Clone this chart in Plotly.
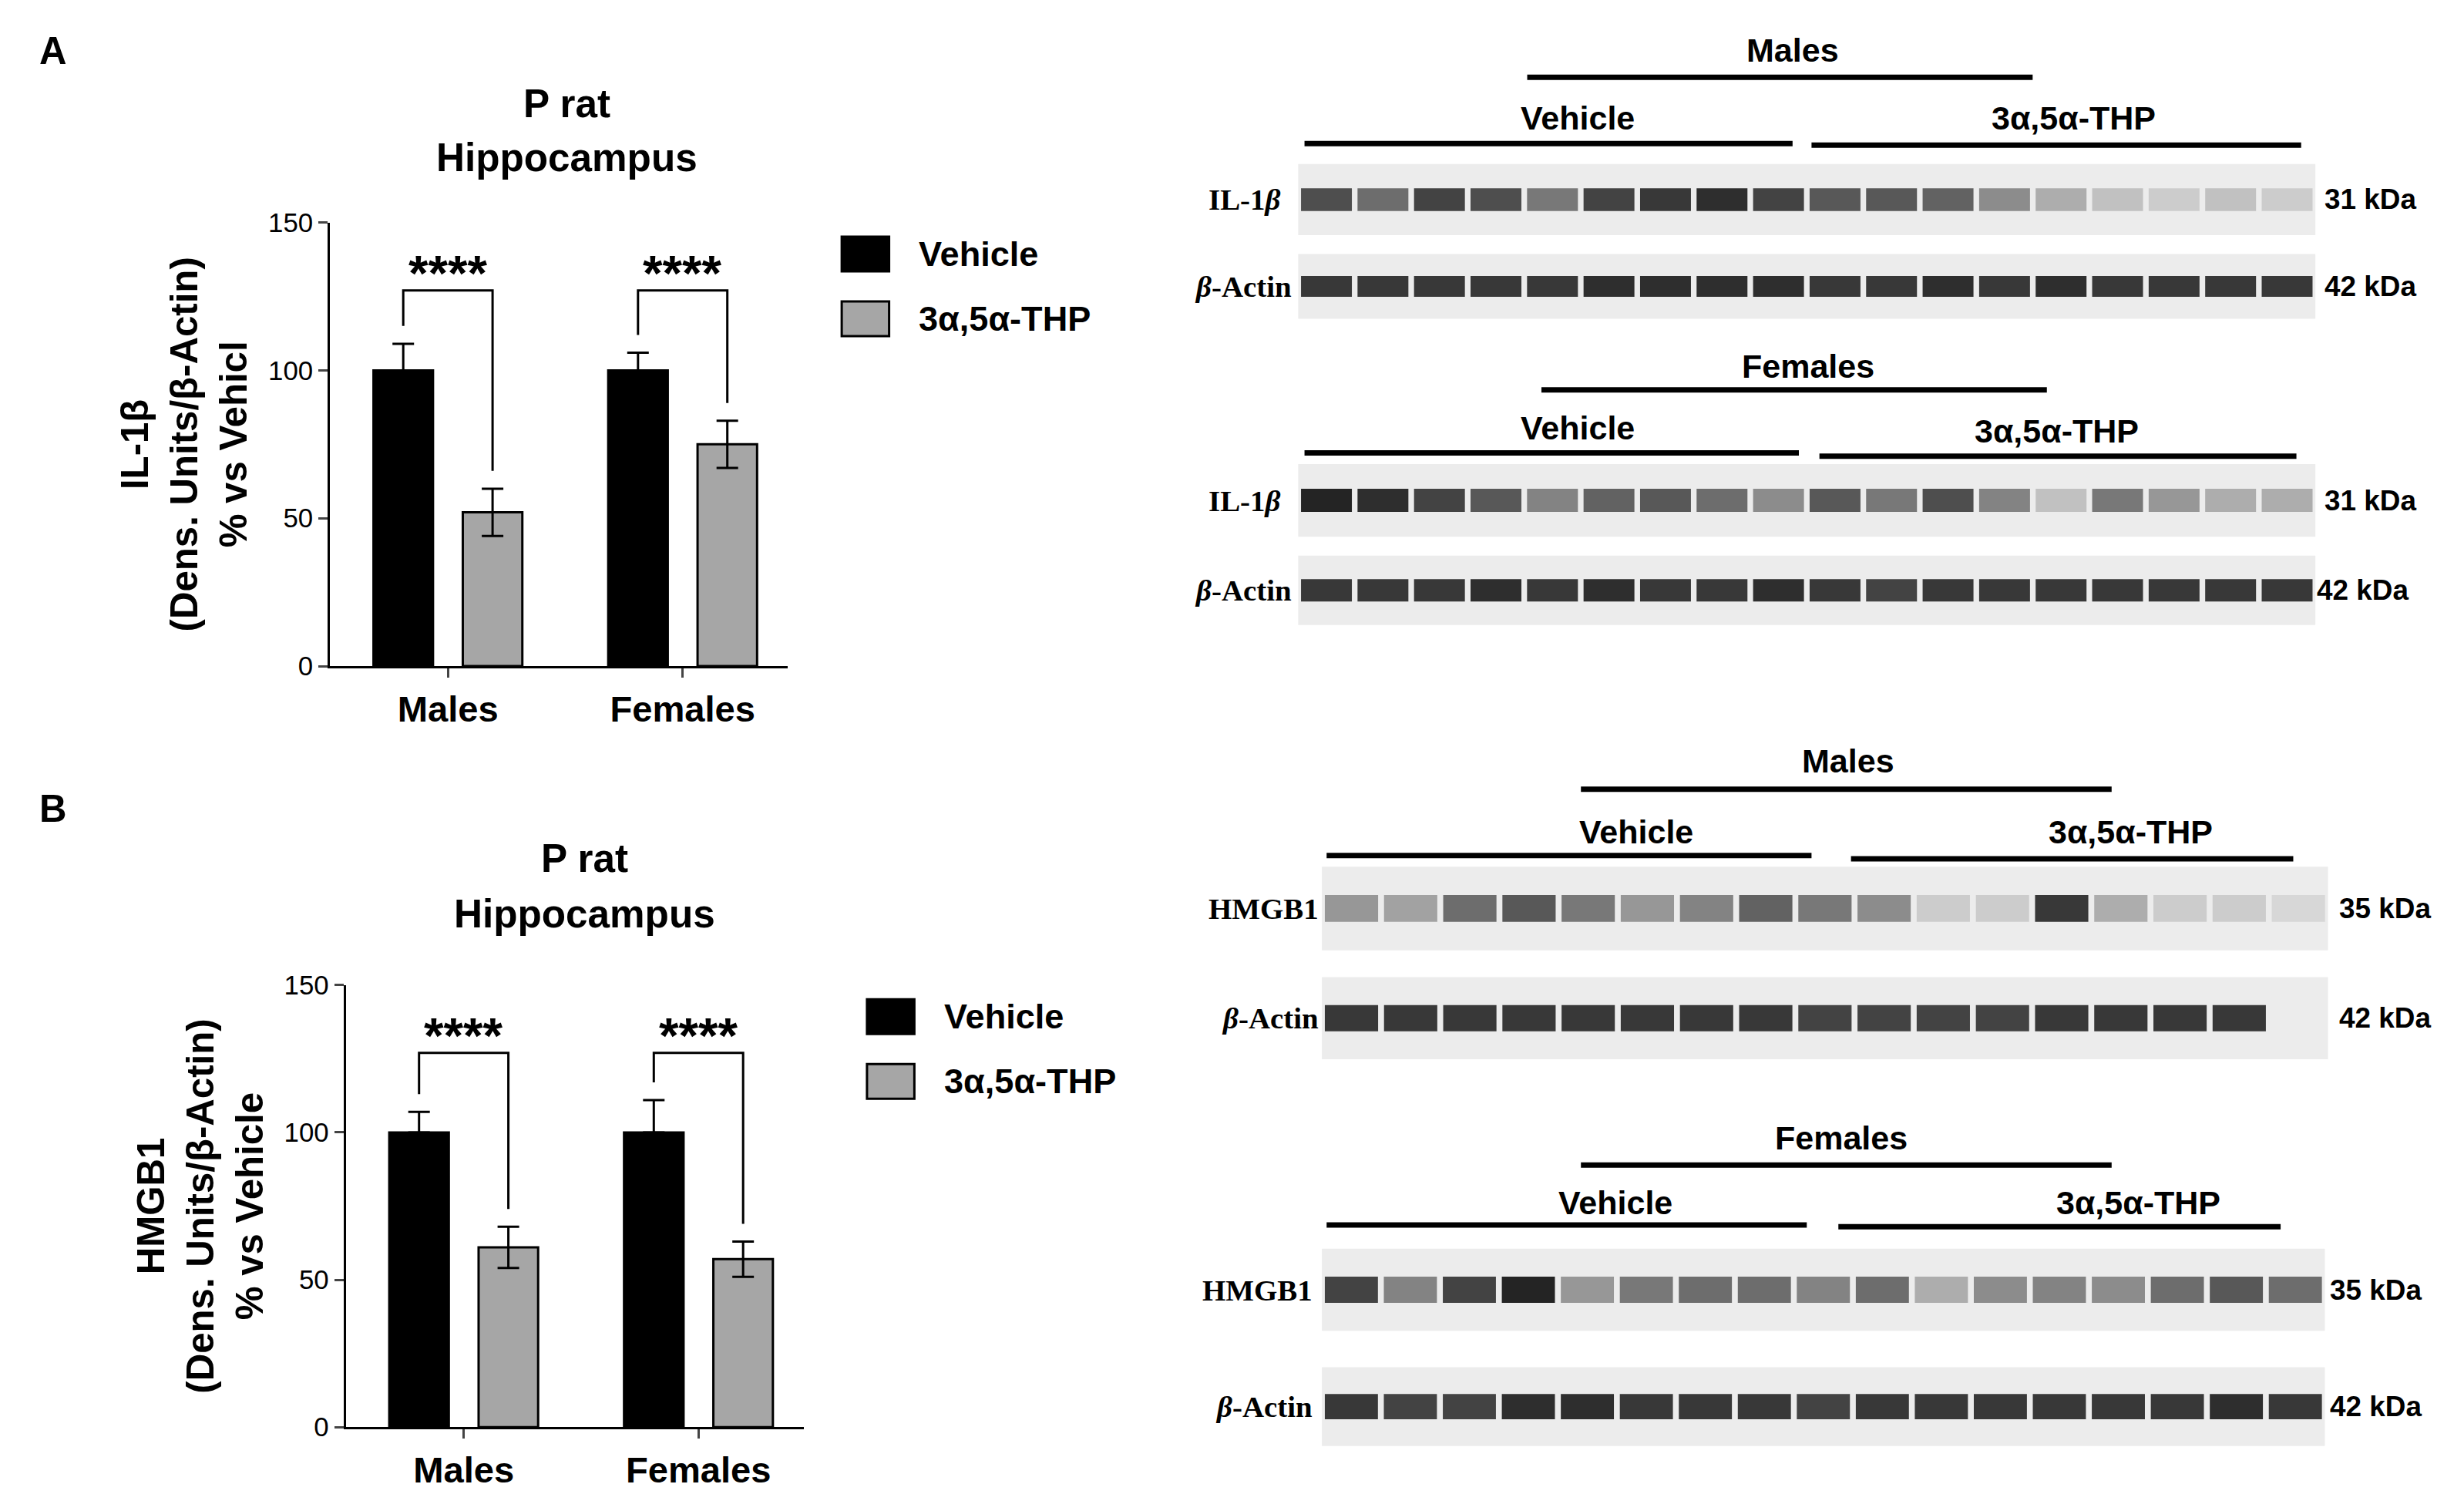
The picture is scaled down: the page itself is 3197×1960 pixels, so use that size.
import plotly.graph_objects as go

# ---------------- data ----------------
groups = ["Males", "Females"]
a_vehicle = [100, 100]
a_vehicle_err = [9, 6]
a_thp = [52, 75]
a_thp_err = [8, 8]

b_vehicle = [100, 100]
b_vehicle_err = [7, 11]
b_thp = [61, 57]
b_thp_err = [7, 6]

# blot band darkness per lane (0 = none, 1 = black)
a_m_il1b = [0.75, 0.6, 0.8, 0.75, 0.55, 0.8, 0.85, 0.9, 0.8, 0.7, 0.7, 0.65, 0.45, 0.3, 0.2, 0.15, 0.2, 0.15]
a_m_actin = [0.85, 0.85, 0.85, 0.85, 0.85, 0.9, 0.9, 0.9, 0.9, 0.85, 0.85, 0.9, 0.85, 0.9, 0.85, 0.85, 0.85, 0.85]
a_f_il1b = [0.95, 0.9, 0.8, 0.7, 0.5, 0.65, 0.7, 0.6, 0.45, 0.7, 0.55, 0.75, 0.5, 0.2, 0.55, 0.4, 0.3, 0.3]
a_f_actin = [0.85, 0.85, 0.85, 0.9, 0.85, 0.9, 0.85, 0.85, 0.9, 0.85, 0.8, 0.85, 0.85, 0.85, 0.85, 0.85, 0.85, 0.85]
b_m_hmgb1 = [0.4, 0.35, 0.6, 0.7, 0.55, 0.4, 0.5, 0.65, 0.55, 0.45, 0.15, 0.15, 0.85, 0.3, 0.15, 0.15, 0.1]
b_m_actin = [0.85, 0.85, 0.85, 0.85, 0.85, 0.85, 0.85, 0.85, 0.8, 0.8, 0.8, 0.8, 0.85, 0.85, 0.85, 0.85, 0.0]
b_f_hmgb1 = [0.8, 0.5, 0.8, 0.95, 0.4, 0.55, 0.6, 0.6, 0.5, 0.6, 0.3, 0.45, 0.5, 0.45, 0.6, 0.7, 0.6]
b_f_actin = [0.85, 0.8, 0.8, 0.9, 0.9, 0.85, 0.85, 0.85, 0.8, 0.85, 0.85, 0.85, 0.85, 0.85, 0.85, 0.9, 0.85]

W, H = 1560.0, 957.0
S = 3197 / W  # font scale


def fx(x):
    return x / W


def fy(y):
    return 1 - y / H


FONT = "Liberation Sans, Arial"
fig = go.Figure()
layout = dict(
    width=3197, height=1960, margin=dict(l=0, r=0, t=0, b=0, autoexpand=False),
    paper_bgcolor="white", plot_bgcolor="rgba(0,0,0,0)", showlegend=False,
    font=dict(family=FONT, color="black"), barmode="overlay",
)
shapes, annots = [], []


def text(txt, x, y, size, xanchor="center", family=FONT):
    annots.append(dict(x=fx(x), y=fy(y), xref="paper", yref="paper", text=txt, showarrow=False,
                       xanchor=xanchor, yanchor="middle",
                       font=dict(size=size * S, weight="bold", family=family)))


# ---------------- bar charts ----------------
CX = [1.03, 3.08]
OFF = 0.39


def bar_panel(n, x0, x1, y0, y1, veh, veh_e, thp, thp_e, ytitle):
    xa, ya = f"x{n}", f"y{n}"
    fig.add_trace(go.Bar(
        x=[c - OFF for c in CX], y=veh, width=0.52, name="Vehicle",
        marker=dict(color="black", line=dict(color="black", width=3)),
        error_y=dict(type="data", array=veh_e, symmetric=False, arrayminus=[0, 0],
                     color="black", thickness=3, width=14),
        xaxis=xa, yaxis=ya,
    ))
    fig.add_trace(go.Bar(
        x=[c + OFF for c in CX], y=thp, width=0.52, name="3α,5α-THP",
        marker=dict(color="#a6a6a6", line=dict(color="black", width=3)),
        error_y=dict(type="data", array=thp_e, color="black", thickness=3, width=14),
        xaxis=xa, yaxis=ya,
    ))
    axkw = dict(showgrid=False, zeroline=False, showline=True, linecolor="black",
                linewidth=3, ticks="outside", ticklen=12, tickwidth=3)
    layout["xaxis" + str(n)] = dict(
        axkw, domain=[fx(x0), fx(x1)], range=[0, 4], anchor=ya,
        tickvals=CX, ticktext=groups,
        tickfont=dict(size=23 * S, family=FONT, weight="bold"))
    layout["yaxis" + str(n)] = dict(
        axkw, domain=[fy(y1), fy(y0)], range=[0, 150], anchor=xa,
        tickvals=[0, 50, 100, 150], tickfont=dict(size=17 * S),
        title=dict(text=ytitle, font=dict(size=24 * S, weight="bold"), standoff=12))
    for i in range(2):
        top = 127
        xv, xt = CX[i] - OFF, CX[i] + OFF
        shapes.append(dict(type="path", xref=xa, yref=ya,
                           path=f"M {xv},{veh[i] + veh_e[i] + 6} L {xv},{top} L {xt},{top} L {xt},{thp[i] + thp_e[i] + 6}",
                           line=dict(color="black", width=3)))
        annots.append(dict(x=CX[i], y=top, xref=xa, yref=ya, text="****", showarrow=False,
                           yanchor="bottom", yshift=-16, font=dict(size=32 * S, weight="bold")))


bar_panel(1, 205, 495, 137, 418, a_vehicle, a_vehicle_err, a_thp, a_thp_err,
          "IL-1β<br>(Dens. Units/β-Actin)<br>% vs Vehicl")
bar_panel(2, 215, 505, 620, 900, b_vehicle, b_vehicle_err, b_thp, b_thp_err,
          "HMGB1<br>(Dens. Units/β-Actin)<br>% vs Vehicle")


def legend(x, y):
    for j, (name, col) in enumerate([("Vehicle", "black"), ("3α,5α-THP", "#a6a6a6")]):
        yy = y + j * 41
        shapes.append(dict(type="rect", xref="paper", yref="paper", x0=fx(x), x1=fx(x + 30),
                           y0=fy(yy + 11), y1=fy(yy - 11), fillcolor=col,
                           line=dict(color="black", width=3)))
        text(name, x + 48, yy, 22, xanchor="left")


legend(529, 157)
legend(545, 640)

text("P rat", 355, 62, 25)
text("Hippocampus", 355, 96, 25)
text("P rat", 366, 540, 25)
text("Hippocampus", 366, 575, 25)
text("A", 30, 28, 24)
text("B", 30, 508, 24)

# ---------------- blots ----------------
n_ax = [3]


def strip(x0, x1, y0, y1, vals, label, kda, lab_x, kda_x):
    n = n_ax[0]
    n_ax[0] += 1
    xa, ya = f"x{n}", f"y{n}"
    shapes.append(dict(type="rect", xref="paper", yref="paper", x0=fx(x0), x1=fx(x1),
                       y0=fy(y1), y1=fy(y0), fillcolor="#ececec", line=dict(width=0), layer="below"))
    lanes = list(range(1, len(vals) + 1))
    fig.add_trace(go.Bar(
        x=lanes, y=[0.32] * len(vals), base=0.34, width=0.9, showlegend=False,
        marker=dict(color=[f"rgba(25,25,25,{v})" for v in vals], line=dict(width=0)),
        hoverinfo="skip", xaxis=xa, yaxis=ya,
    ))
    layout["xaxis" + str(n)] = dict(domain=[fx(x0), fx(x1)], range=[0.5, len(vals) + 0.5],
                                    visible=False, anchor=ya)
    layout["yaxis" + str(n)] = dict(domain=[fy(y1), fy(y0)], range=[0, 1], visible=False, anchor=xa)
    ym = (y0 + y1) / 2
    text(label, lab_x, ym, 19, xanchor="right", family="Liberation Serif")
    text(kda, kda_x, ym, 18, xanchor="left")


def header(lines):
    for txt, tx, ty, lx0, lx1, ly in lines:
        text(txt, tx, ty, 21)
        shapes.append(dict(type="line", xref="paper", yref="paper", x0=fx(lx0), x1=fx(lx1),
                           y0=fy(ly), y1=fy(ly), line=dict(color="black", width=7)))


header([("Males", 1131, 28, 963, 1283, 45), ("Vehicle", 995, 71, 822, 1131, 87),
        ("3α,5α-THP", 1309, 71, 1143, 1453, 88)])
strip(818, 1462, 100, 145, a_m_il1b, "IL-1<i>β</i>", "31 kDa", 808, 1467)
strip(818, 1462, 157, 198, a_m_actin, "<i>β</i>-Actin", "42 kDa", 815, 1467)
header([("Females", 1141, 228, 972, 1292, 243), ("Vehicle", 995, 267, 822, 1135, 283),
        ("3α,5α-THP", 1298, 269, 1148, 1450, 285)])
strip(818, 1462, 290, 336, a_f_il1b, "IL-1<i>β</i>", "31 kDa", 808, 1467)
strip(818, 1462, 348, 392, a_f_actin, "<i>β</i>-Actin", "42 kDa", 815, 1462)
header([("Males", 1166, 478, 997, 1333, 496), ("Vehicle", 1032, 523, 836, 1143, 538),
        ("3α,5α-THP", 1345, 523, 1168, 1448, 540)])
strip(833, 1470, 545, 598, b_m_hmgb1, "HMGB1", "35 kDa", 832, 1476)
strip(833, 1470, 615, 667, b_m_actin, "<i>β</i>-Actin", "42 kDa", 832, 1476)
header([("Females", 1162, 717, 997, 1333, 734), ("Vehicle", 1019, 758, 836, 1140, 772),
        ("3α,5α-THP", 1350, 758, 1160, 1440, 773)])
strip(833, 1468, 787, 839, b_f_hmgb1, "HMGB1", "35 kDa", 828, 1470)
strip(833, 1468, 862, 912, b_f_actin, "<i>β</i>-Actin", "42 kDa", 828, 1470)

layout["shapes"] = shapes
layout["annotations"] = annots
fig.update_layout(**layout)
fig.write_html("out.html")
